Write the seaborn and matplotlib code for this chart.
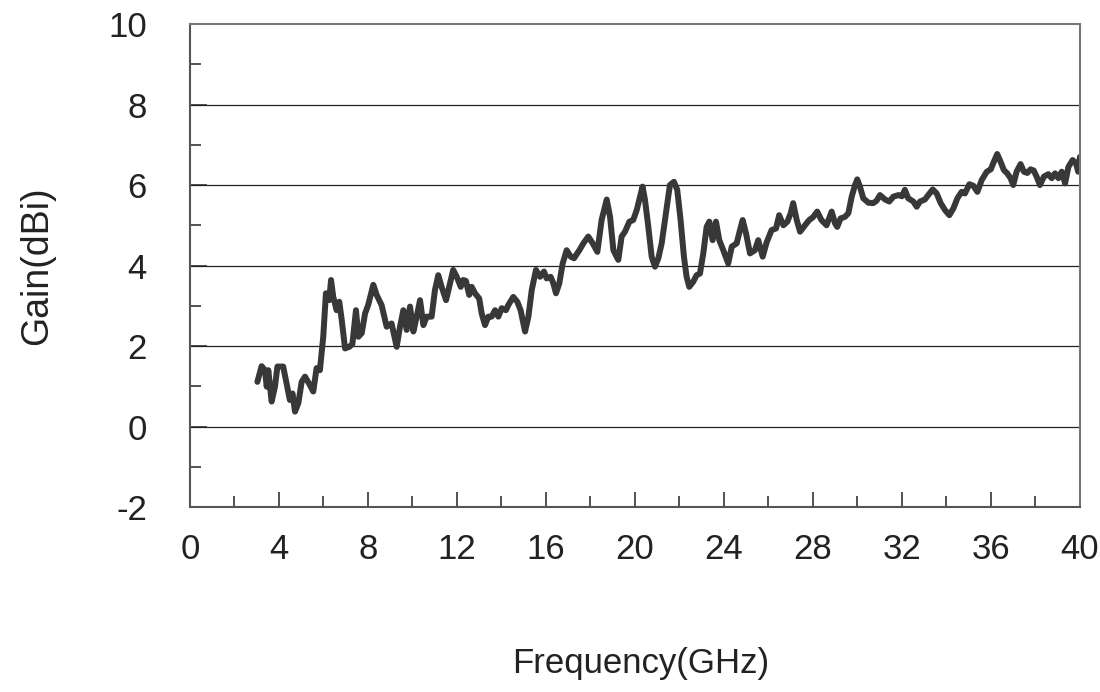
import matplotlib
matplotlib.use("Agg")
import matplotlib.pyplot as plt
import seaborn as sns
from matplotlib.ticker import MultipleLocator

# Gain vs frequency curve

freq = [3.03, 3.22, 3.37, 3.45, 3.52, 3.67, 3.82, 3.93, 4.19, 4.34, 4.49, 4.61, 4.72, 4.87,
        5.02, 5.17, 5.39, 5.54, 5.69, 5.84, 5.99, 6.11, 6.26, 6.34, 6.44, 6.59, 6.71, 6.82,
        6.97, 7.16, 7.30, 7.46, 7.57, 7.72, 7.87, 8.01, 8.24, 8.39, 8.61, 8.84, 9.06, 9.29,
        9.44, 9.59, 9.74, 9.89, 10.04, 10.19, 10.34, 10.49, 10.64, 10.86, 11.01, 11.16,
        11.31, 11.51, 11.69, 11.83, 11.99, 12.17, 12.28, 12.40, 12.55, 12.66, 12.81, 13.00,
        13.11, 13.26, 13.41, 13.56, 13.71, 13.86, 14.01, 14.20, 14.31, 14.53, 14.71, 14.86,
        15.06, 15.21, 15.36, 15.55, 15.73, 15.91, 16.03, 16.21, 16.33, 16.45, 16.60, 16.75,
        16.93, 17.11, 17.26, 17.50, 17.68, 17.90, 18.10, 18.31, 18.50, 18.73, 18.88, 19.03,
        19.25, 19.40, 19.55, 19.75, 19.92, 20.08, 20.34, 20.45, 20.60, 20.75, 20.90, 21.05,
        21.20, 21.39, 21.57, 21.75, 21.90, 22.05, 22.20, 22.32, 22.44, 22.62, 22.77, 22.92,
        23.07, 23.22, 23.34, 23.49, 23.64, 23.79, 23.97, 24.19, 24.35, 24.57, 24.72, 24.84,
        24.99, 25.17, 25.39, 25.54, 25.74, 25.92, 26.14, 26.34, 26.48, 26.67, 26.85, 27.00,
        27.11, 27.27, 27.42, 27.64, 27.83, 28.00, 28.19, 28.38, 28.61, 28.84, 28.99, 29.09,
        29.24, 29.44, 29.59, 29.74, 29.89, 29.99, 30.11, 30.26, 30.49, 30.71, 30.86, 31.01,
        31.24, 31.43, 31.61, 31.84, 32.00, 32.13, 32.28, 32.51, 32.66, 32.81, 33.03, 33.18,
        33.38, 33.56, 33.74, 33.93, 34.13, 34.31, 34.49, 34.68, 34.83, 35.03, 35.21, 35.39,
        35.58, 35.81, 35.99, 36.13, 36.28, 36.43, 36.58, 36.73, 36.88, 37.00, 37.15, 37.33,
        37.48, 37.63, 37.78, 37.92, 38.05, 38.20, 38.38, 38.58, 38.73, 38.88, 39.03, 39.18,
        39.33, 39.48, 39.67, 39.82, 39.92, 40.00]

gain = [1.11, 1.50, 1.40, 0.99, 1.40, 0.62, 0.99, 1.49, 1.49, 1.07, 0.66, 0.82, 0.37, 0.58,
        1.11, 1.24, 1.03, 0.87, 1.45, 1.40, 2.23, 3.31, 3.14, 3.64, 3.22, 2.89, 3.10, 2.65,
        1.94, 1.98, 2.05, 2.89, 2.23, 2.32, 2.81, 3.02, 3.52, 3.27, 3.02, 2.48, 2.56, 1.98,
        2.48, 2.89, 2.40, 2.98, 2.36, 2.73, 3.14, 2.52, 2.73, 2.73, 3.39, 3.76,
        3.47, 3.14, 3.56, 3.89, 3.72, 3.47, 3.64, 3.62, 3.27, 3.47, 3.31, 3.18,
        2.81, 2.52, 2.73, 2.73, 2.89, 2.73, 2.94, 2.89, 3.02, 3.22, 3.10, 2.89,
        2.36, 2.73, 3.39, 3.89, 3.72, 3.85, 3.68, 3.72, 3.56, 3.31, 3.56, 4.05,
        4.38, 4.22, 4.18, 4.38, 4.55, 4.72, 4.55, 4.34, 5.13, 5.64, 5.21, 4.38,
        4.14, 4.72, 4.84, 5.09, 5.13, 5.38, 5.96, 5.63, 4.96, 4.22, 3.97, 4.18,
        4.55, 5.30, 6.00, 6.08, 5.88, 5.13, 4.22, 3.72, 3.47, 3.60, 3.76, 3.80,
        4.30, 4.96, 5.09, 4.63, 5.09, 4.63, 4.38, 4.05, 4.47, 4.55, 4.88, 5.13,
        4.80, 4.30, 4.38, 4.63, 4.22, 4.58, 4.88, 4.92, 5.25, 5.00, 5.09, 5.30,
        5.55, 5.13, 4.84, 5.00, 5.13, 5.20, 5.34, 5.13, 5.00, 5.34, 5.05, 4.96,
        5.17, 5.21, 5.30, 5.71, 6.00, 6.14, 5.96, 5.67, 5.56, 5.55, 5.61, 5.75,
        5.64, 5.59, 5.71, 5.75, 5.72, 5.88, 5.67, 5.59, 5.46, 5.59, 5.64, 5.75,
        5.89, 5.79, 5.55, 5.38, 5.25, 5.42, 5.67, 5.83, 5.79, 6.02, 5.98, 5.83,
        6.12, 6.33, 6.39, 6.58, 6.77, 6.58, 6.37, 6.29, 6.17, 6.00, 6.33, 6.52,
        6.33, 6.30, 6.39, 6.36, 6.21, 6.00, 6.21, 6.27, 6.17, 6.29, 6.17, 6.33,
        6.04, 6.45, 6.62, 6.54, 6.33, 6.70]

sns.set_style("white")
plt.rcParams['font.family'] = ['Liberation Sans', 'DejaVu Sans']
plt.rcParams['axes.unicode_minus'] = False

fig = plt.figure(figsize=(11, 6.92), dpi=100)
ax = fig.add_axes([0.1727, 0.2673, 0.8091, 0.698])

sns.lineplot(x=freq, y=gain, ax=ax, color='#383838', linewidth=4.3,
             solid_joinstyle='round', solid_capstyle='round')

ax.set_xlim(0, 40)
ax.set_ylim(-2, 10)
ax.xaxis.set_major_locator(MultipleLocator(4))
ax.xaxis.set_minor_locator(MultipleLocator(2))
ax.yaxis.set_major_locator(MultipleLocator(2))
ax.yaxis.set_minor_locator(MultipleLocator(1))

for v in [0, 2, 4, 6, 8]:
    ax.axhline(v, color='#222222', linewidth=0.9, zorder=1)

ax.tick_params(axis='both', which='both', direction='in', colors='#444444',
               labelcolor='#222222', labelsize=25, width=1.3,
               bottom=True, left=True, top=False, right=False)
ax.tick_params(axis='x', which='major', length=11, pad=19)
ax.tick_params(axis='x', which='minor', length=8)
ax.tick_params(axis='y', which='major', length=12, pad=31)
ax.tick_params(axis='y', which='minor', length=8)

for s in ax.spines.values():
    s.set_color('#777777')
    s.set_linewidth(1.5)
ax.spines['left'].set_color('#555555')
ax.spines['bottom'].set_color('#555555')

ax.set_xlabel('Frequency(GHz)', fontsize=25, color='#222222')
ax.set_ylabel('Gain(dBi)', fontsize=27, color='#222222')
ax.xaxis.set_label_coords(0.506, -0.29)
ax.yaxis.set_label_coords(-0.152, 0.5)

plt.savefig('out.png', dpi=100)
